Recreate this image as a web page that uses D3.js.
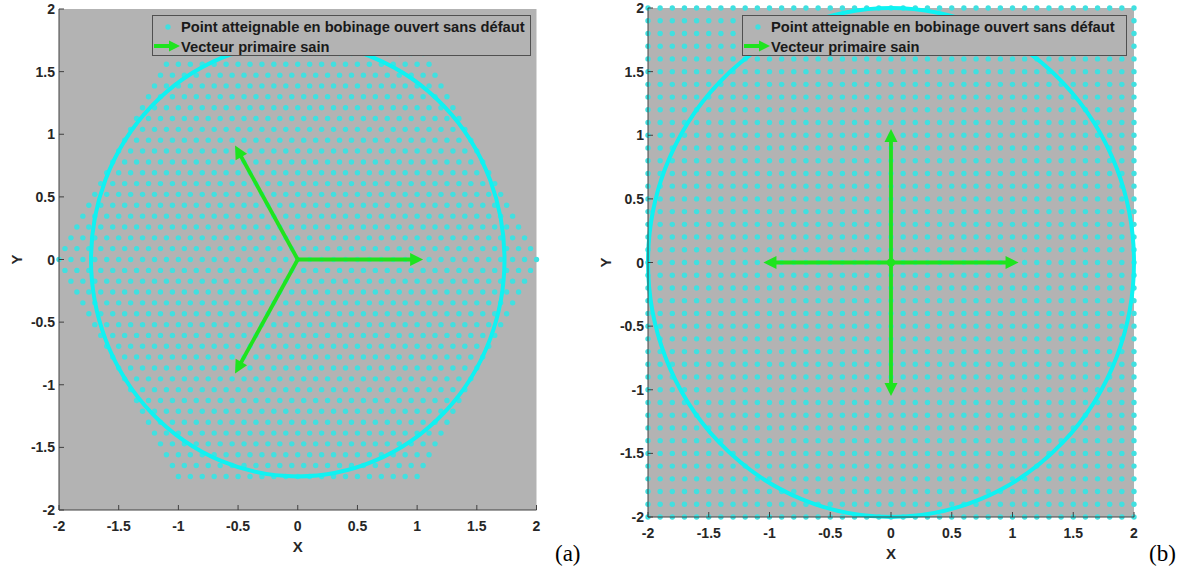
<!DOCTYPE html>
<html><head><meta charset="utf-8">
<script src="https://cdn.jsdelivr.net/npm/d3@7"></script>
<style>body{margin:0;background:#fff} svg{display:block}</style>
</head><body><svg id="c" width="1192" height="572"></svg>
<script>
// ---------- data ----------
const tickValues = [-2, -1.5, -1, -0.5, 0, 0.5, 1, 1.5, 2];
const tickLabels = ["-2", "-1.5", "-1", "-0.5", "0", "0.5", "1", "1.5", "2"];
const gridStep = 0.1;
// hexagonal lattice (panel a): row ordinate and half width of each row
const hexRowY = [-1.732,-1.645,-1.559,-1.472,-1.386,-1.299,-1.212,-1.126,-1.039,-0.953,-0.866,-0.779,-0.693,-0.606,-0.520,-0.433,-0.346,-0.260,-0.173,-0.087,0,
  0.087,0.173,0.260,0.346,0.433,0.520,0.606,0.693,0.779,0.866,0.953,1.039,1.126,1.212,1.299,1.386,1.472,1.559,1.645,1.732];
const hexRowHalfWidth = [1.00,1.05,1.10,1.15,1.20,1.25,1.30,1.35,1.40,1.45,1.50,1.55,1.60,1.65,1.70,1.75,1.80,1.85,1.90,1.95,2.00,
  1.95,1.90,1.85,1.80,1.75,1.70,1.65,1.60,1.55,1.50,1.45,1.40,1.35,1.30,1.25,1.20,1.15,1.10,1.05,1.00];
// square lattice (panel b): coordinates along each axis
const squareCoords = [-2,-1.9,-1.8,-1.7,-1.6,-1.5,-1.4,-1.3,-1.2,-1.1,-1,-0.9,-0.8,-0.7,-0.6,-0.5,-0.4,-0.3,-0.2,-0.1,0,
  0.1,0.2,0.3,0.4,0.5,0.6,0.7,0.8,0.9,1,1.1,1.2,1.3,1.4,1.5,1.6,1.7,1.8,1.9,2];
const circleRadiusA = 1.732;
const circleRadiusB = 2;
const vectorsA = [[1, 0], [-0.5, 0.866], [-0.5, -0.866]];
const vectorsB = [[1, 0], [-1, 0], [0, 1], [0, -1]];
const arrowReach = 1.05;
const legendLabels = ["Point atteignable en bobinage ouvert sans défaut", "Vecteur primaire sain"];
const panelLabels = ["(a)", "(b)"];

// ---------- build points ----------
const hexPoints = [];
hexRowY.forEach((y, i) => {
  const hw = hexRowHalfWidth[i];
  const n = Math.round(2 * hw / gridStep);
  for (let j = 0; j <= n; j++) hexPoints.push([-hw + j * gridStep, y]);
});
const squarePoints = [];
squareCoords.forEach(y => squareCoords.forEach(x => squarePoints.push([x, y])));

// ---------- style ----------
const C = {
  bg: "#b3b3b3", point: "#40e0e0", circle: "#0ff2f2", green: "#1ee41e",
  axis: "#404040", text: "#262626", legendBorder: "#505050"
};
const SANS = "'Liberation Sans', Arial, Helvetica, sans-serif";
const SERIF = "'Liberation Serif', 'Times New Roman', serif";

const svg = d3.select("#c");

function label(sel, size) {
  return sel.style("font-family", SANS).style("font-size", size + "px").style("font-weight", "700");
}

const panels = [
  { px: [59, 536.5], py: [510, 9], legend: [152, 15, 378, 40], points: hexPoints, r: circleRadiusA, vectors: vectorsA, origin: false, label: panelLabels[0], labelPos: [555, 561] },
  { px: [648, 1134], py: [517, 8], legend: [742, 15, 384, 40], points: squarePoints, r: circleRadiusB, vectors: vectorsB, origin: true, label: panelLabels[1], labelPos: [1149, 561] }
];

panels.forEach(p => {
  const x = d3.scaleLinear().domain([-2, 2]).range(p.px);
  const y = d3.scaleLinear().domain([-2, 2]).range(p.py);
  const g = svg.append("g");

  g.append("rect").attr("x", p.px[0]).attr("y", p.py[1])
    .attr("width", p.px[1] - p.px[0]).attr("height", p.py[0] - p.py[1]).attr("fill", C.bg);

  g.append("g").selectAll("circle").data(p.points).join("circle")
    .attr("cx", d => x(d[0])).attr("cy", d => y(d[1])).attr("r", 2.7).attr("fill", C.point);

  g.append("ellipse").attr("cx", x(0)).attr("cy", y(0))
    .attr("rx", x(p.r) - x(0)).attr("ry", y(0) - y(p.r))
    .attr("fill", "none").attr("stroke", C.circle).attr("stroke-width", 4);

  // arrows
  const ag = g.append("g");
  p.vectors.forEach(v => {
    const x0 = x(0), y0 = y(0);
    const tx = x(v[0] * arrowReach), ty = y(v[1] * arrowReach);
    const dx = tx - x0, dy = ty - y0, L = Math.hypot(dx, dy);
    const ux = dx / L, uy = dy / L;
    const hl = 13, hw = 6.5;
    const bx = tx - ux * hl, by = ty - uy * hl;
    ag.append("line").attr("x1", x0).attr("y1", y0).attr("x2", bx + ux * 2).attr("y2", by + uy * 2)
      .attr("stroke", C.green).attr("stroke-width", 3.8);
    ag.append("path").attr("d", `M${tx},${ty}L${bx - uy * hw},${by + ux * hw}L${bx + uy * hw},${by - ux * hw}Z`)
      .attr("fill", C.green);
  });
  if (p.origin) ag.append("circle").attr("cx", x(0)).attr("cy", y(0)).attr("r", 4).attr("fill", C.green);

  // axes
  const ax = g.append("g");
  ax.append("line").attr("x1", p.px[0]).attr("x2", p.px[1]).attr("y1", p.py[0]).attr("y2", p.py[0]).attr("stroke", C.axis);
  ax.append("line").attr("x1", p.px[0]).attr("x2", p.px[0]).attr("y1", p.py[0]).attr("y2", p.py[1]).attr("stroke", C.axis);
  tickValues.forEach((t, i) => {
    ax.append("line").attr("x1", x(t)).attr("x2", x(t)).attr("y1", p.py[0]).attr("y2", p.py[0] - 5).attr("stroke", C.axis);
    ax.append("line").attr("x1", p.px[0]).attr("x2", p.px[0] + 5).attr("y1", y(t)).attr("y2", y(t)).attr("stroke", C.axis);
    label(ax.append("text"), 14).attr("x", x(t)).attr("y", p.py[0] + 20.5).attr("text-anchor", "middle")
      .attr("fill", C.text).text(tickLabels[i]);
    label(ax.append("text"), 14).attr("x", p.px[0] - 4).attr("y", y(t) + 5).attr("text-anchor", "end")
      .attr("fill", C.text).text(tickLabels[i]);
  });
  label(ax.append("text"), 15).attr("x", x(0)).attr("y", p.py[0] + 41.5).attr("text-anchor", "middle")
    .attr("fill", C.text).text("X");
  label(ax.append("text"), 15).attr("transform", `translate(${p.px[0] - 37},${y(0)}) rotate(-90)`).attr("text-anchor", "middle")
    .attr("fill", C.text).text("Y");

  // legend
  const [lx, ly, lw, lh] = p.legend;
  const lg = g.append("g");
  lg.append("rect").attr("x", lx + 0.5).attr("y", ly + 0.5).attr("width", lw).attr("height", lh)
    .attr("fill", C.bg).attr("stroke", C.legendBorder);
  lg.append("circle").attr("cx", lx + 16).attr("cy", ly + 12).attr("r", 2.7).attr("fill", C.point);
  lg.append("line").attr("x1", lx + 2).attr("x2", lx + 18).attr("y1", ly + 31).attr("y2", ly + 31)
    .attr("stroke", C.green).attr("stroke-width", 4);
  lg.append("path").attr("d", `M${lx + 28},${ly + 31}L${lx + 17},${ly + 25.5}L${lx + 17},${ly + 36.5}Z`).attr("fill", C.green);
  legendLabels.forEach((t, i) => {
    label(lg.append("text"), 14.7).attr("x", lx + 29).attr("y", ly + 17 + i * 20)
      .attr("fill", "#1a1a1a").text(t);
  });

  svg.append("text").attr("x", p.labelPos[0]).attr("y", p.labelPos[1])
    .style("font-family", SERIF).style("font-size", "23px").attr("fill", "#000").text(p.label);
});
</script></body></html>
